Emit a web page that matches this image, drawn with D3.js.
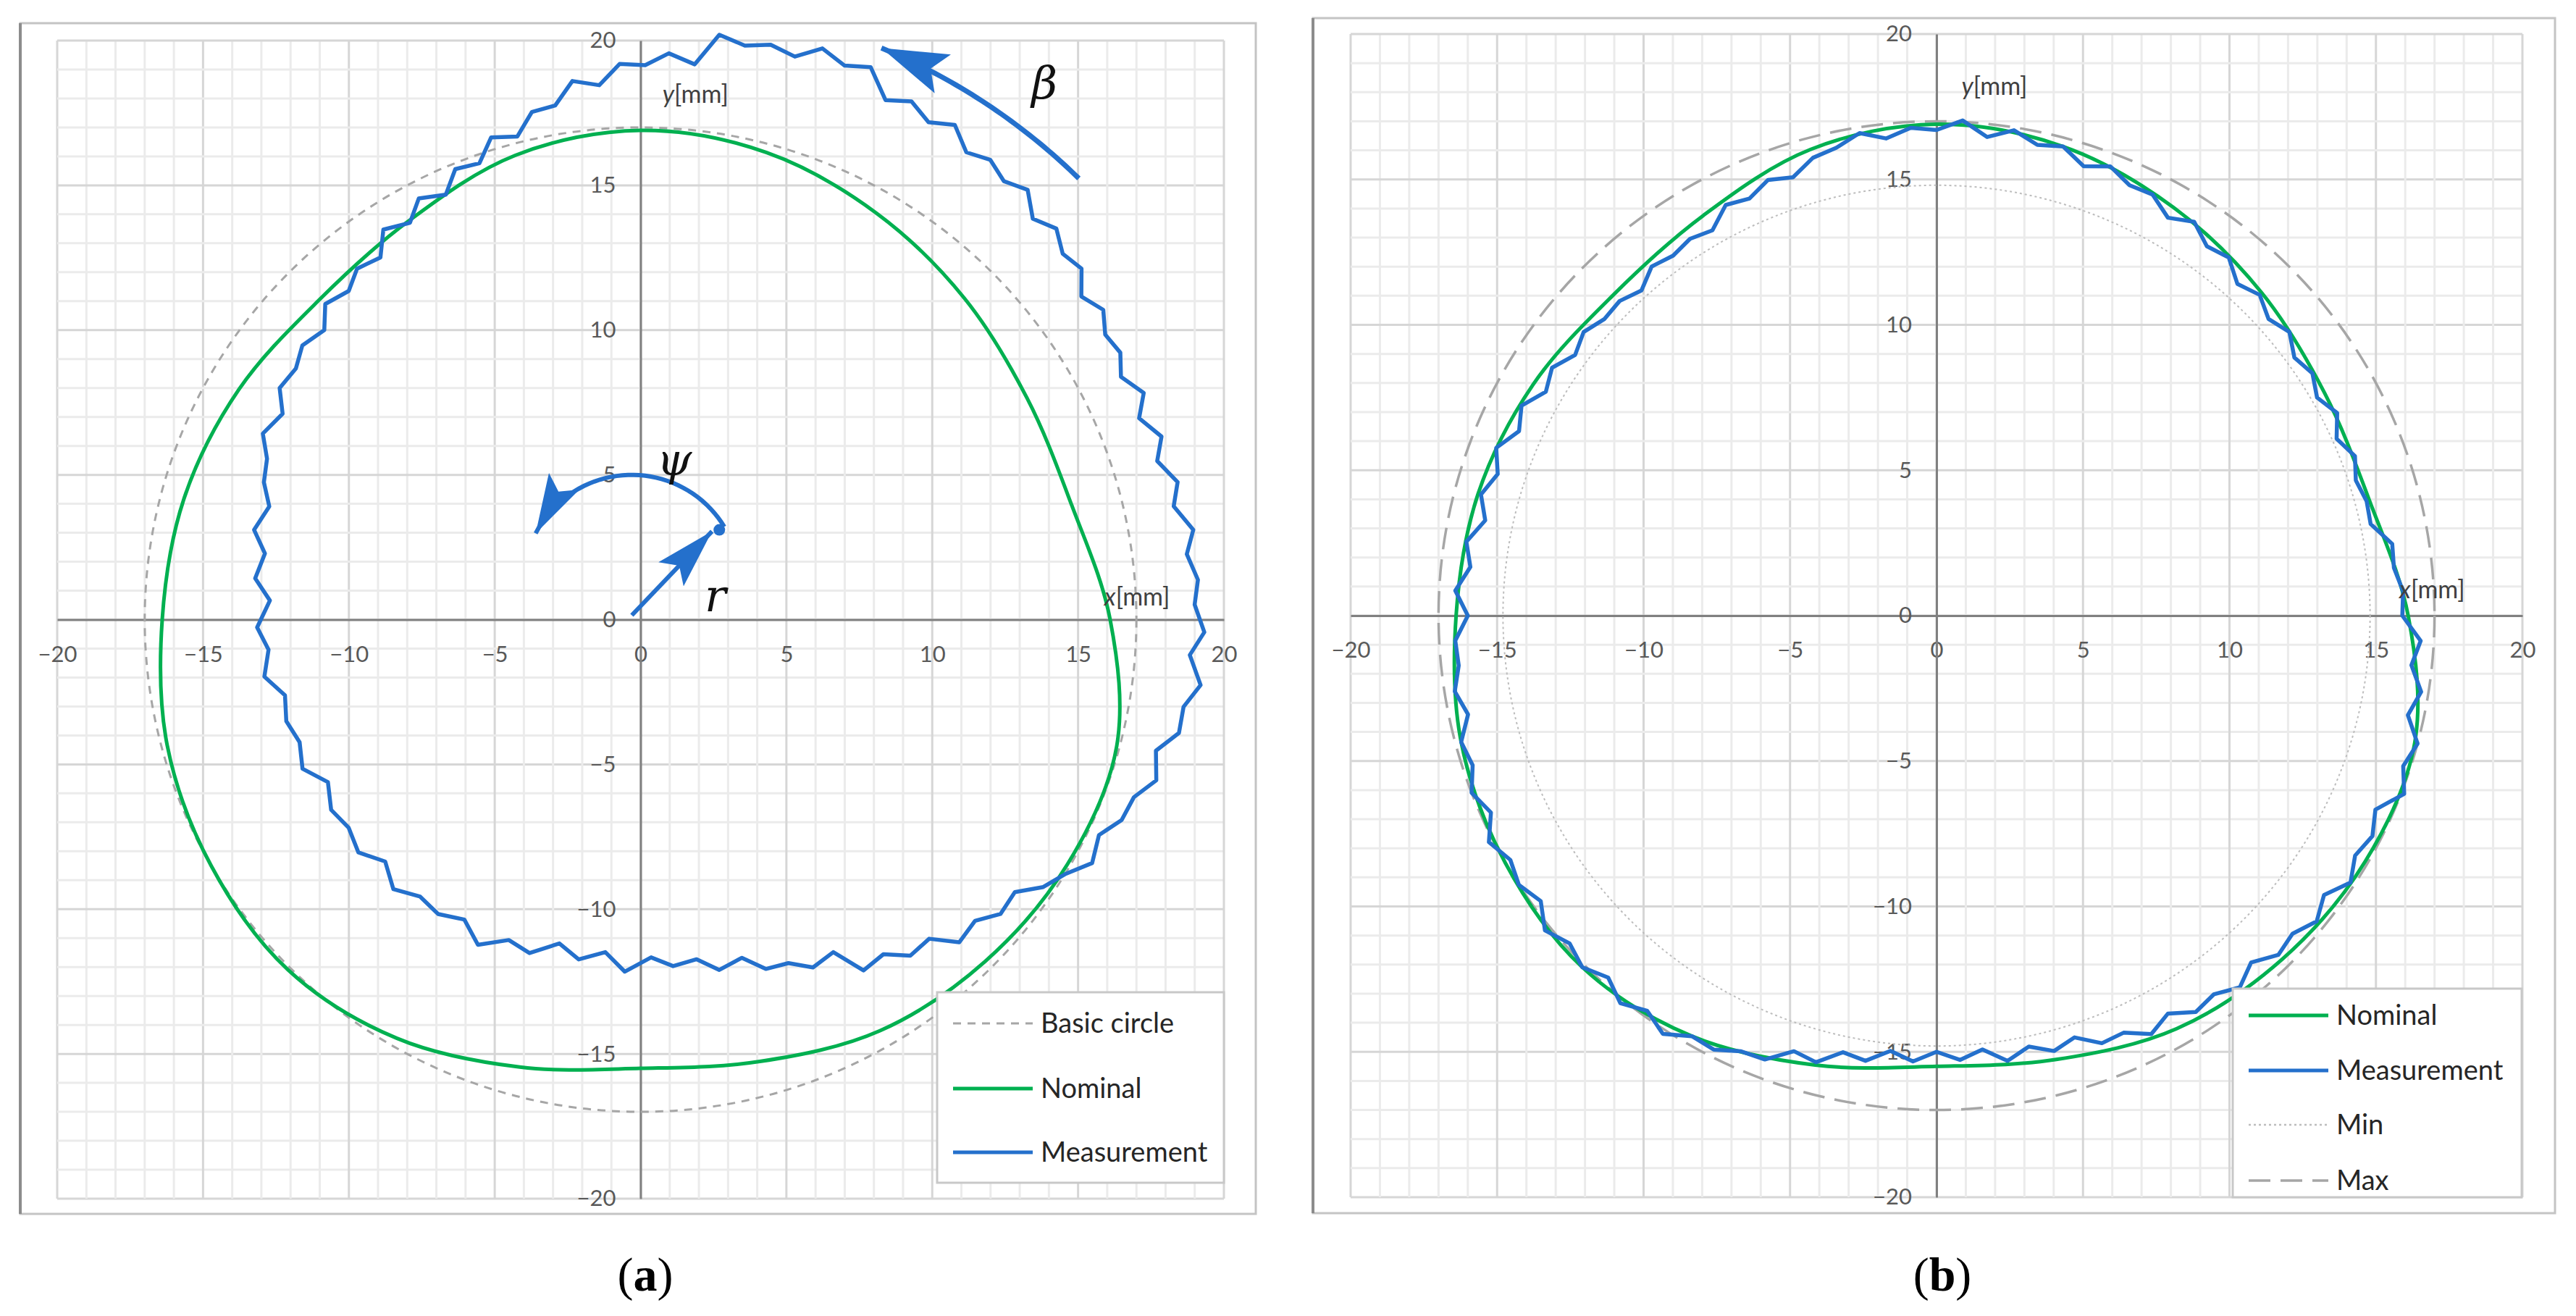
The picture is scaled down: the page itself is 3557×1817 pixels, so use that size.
<!DOCTYPE html>
<html>
<head>
<meta charset="utf-8">
<script src="https://cdn.jsdelivr.net/npm/d3@7"></script>
<style>
  body { margin: 0; background: #fff; }
  svg { display: block; }
</style>
</head>
<body>
<svg id="chart" width="3557" height="1817"></svg>
<script>
// Nominal cam profile, radius [mm] every 15 deg (counter-clockwise from +x)
var nominalAngles = d3.range(0, 360, 15);
var nominalRadius = [16.1, 15.3, 15.3, 15.7, 16.2, 16.7, 16.9, 16.6, 15.9, 15.6, 15.9, 16.2,
                     16.4, 16.8, 17.0, 17.1, 16.7, 16.0, 15.5, 15.8, 16.4, 16.7, 16.9, 16.9];

// Measured profiles, radius [mm] every 3 deg
var measAngles = d3.range(0, 360, 3);
// (a) measured around the offset centre
var measCenterA = [2.7, 3.1];
var measRadiusA = [16.25,15.6,15.8,15.2,15.5,14.9,15.3,14.75,15.05,14.85,15.2,14.8,15.35,15.15,15.55,15.2,15.8,15.5,15.8,15.55,
  16.15,15.8,16.2,15.9,16.8,16.6,17.0,16.55,16.85,16.75,17.1,16.1,16.55,16.25,16.45,15.9,16.3,15.7,15.8,15.25,
  15.65,15.1,15.4,14.9,15.4,15.0,15.5,14.95,15.35,15.15,15.6,15.2,15.65,15.55,15.85,15.5,16.0,15.7,15.7,15.45,
  15.95,15.6,16.0,15.6,16.2,16.0,16.4,15.95,16.25,16.15,16.5,16.0,16.45,16.35,16.65,16.2,16.7,16.3,16.4,16.05,
  16.55,15.9,16.0,15.3,15.6,15.1,15.6,14.95,15.15,14.85,15.2,14.8,15.25,15.15,15.45,15.1,16.0,15.7,16.1,15.85,
  16.45,16.1,16.4,16.1,16.6,16.8,17.2,16.75,17.05,16.95,17.3,16.8,17.25,17.05,17.35,16.7,17.0,16.5,16.5,16.05];
// (b) measured around the origin
var measRadiusB = [15.9,15.95,15.7,15.75,15.15,15.2,15.05,15.3,14.95,15.35,15.0,15.3,15.1,15.5,15.25,15.6,15.35,15.85,15.7,16.15,
  15.8,16.25,16.2,16.55,16.25,16.7,16.55,16.9,16.55,17.05,16.7,16.8,16.5,16.8,16.45,16.3,15.85,16.05,15.7,15.85,
  15.3,15.45,15.3,15.45,15.05,15.3,15.25,15.5,15.25,15.65,15.4,15.9,15.6,16.1,15.75,16.1,15.75,16.25,16.0,16.45,
  16.0,16.45,16.4,16.65,16.35,16.8,16.65,17.0,16.65,17.15,16.8,17.0,16.7,17.2,16.85,17.1,16.75,17.15,16.8,17.15,
  16.7,16.75,16.4,16.35,15.75,15.9,15.35,15.5,15.05,15.35,15.0,15.3,15.0,15.5,15.15,15.5,15.25,15.75,15.7,16.15,
  15.8,16.25,16.1,16.45,16.05,16.5,16.35,16.7,16.35,16.85,16.5,16.7,16.4,17.1,16.75,17.0,16.45,16.75,16.3,16.55];

var basicCircleR = 17.0;
var minCircleR = 14.8;
var maxCircleR = 17.0;

var ticks = [-20, -15, -10, -5, 0, 5, 10, 15, 20];
var minorTicks = d3.range(-20, 21, 1);

var svg = d3.select("#chart");
var GREEN = "#00b050", BLUE = "#2470cc", GREY = "#a6a6a6";

function toXY(angles, radius, c) {
  c = c || [0, 0];
  return angles.map(function (a, i) {
    var t = a * Math.PI / 180;
    return [c[0] + radius[i] * Math.cos(t), c[1] + radius[i] * Math.sin(t)];
  });
}

function panel(opt) {
  var g = svg.append("g");
  var x = d3.scaleLinear().domain([-20, 20]).range(opt.xr);
  var y = d3.scaleLinear().domain([-20, 20]).range(opt.yr);

  // outer frame
  g.append("rect").attr("x", opt.box[0]).attr("y", opt.box[1])
    .attr("width", opt.box[2] - opt.box[0]).attr("height", opt.box[3] - opt.box[1])
    .attr("fill", "#fff").attr("stroke", "#c4c4c4").attr("stroke-width", 3);
  g.append("line").attr("x1", opt.box[0]).attr("x2", opt.box[0])
    .attr("y1", opt.box[1]).attr("y2", opt.box[3]).attr("stroke", "#8c8c8c").attr("stroke-width", 4);

  // gridlines
  var grid = g.append("g");
  minorTicks.forEach(function (v) {
    var major = v % 5 === 0;
    grid.append("line").attr("x1", x(v)).attr("x2", x(v)).attr("y1", y(-20)).attr("y2", y(20))
      .attr("stroke", major ? "#d6d6d6" : "#ebebeb").attr("stroke-width", 3);
    grid.append("line").attr("y1", y(v)).attr("y2", y(v)).attr("x1", x(-20)).attr("x2", x(20))
      .attr("stroke", major ? "#d6d6d6" : "#ebebeb").attr("stroke-width", 3);
  });

  // axes through the origin
  var xa = g.append("g").attr("transform", "translate(0," + y(0) + ")")
    .call(d3.axisBottom(x).tickValues(ticks).tickSize(0).tickPadding(36).tickFormat(d3.format("d")));
  var ya = g.append("g").attr("transform", "translate(" + x(0) + ",0)")
    .call(d3.axisLeft(y).tickValues(ticks).tickSize(0).tickPadding(34).tickFormat(d3.format("d")));
  [xa, ya].forEach(function (a) {
    a.select(".domain").attr("stroke", "#808080").attr("stroke-width", 3);
    a.selectAll("text").attr("font-family", "Lato, 'Open Sans', sans-serif")
      .attr("font-size", 31).attr("fill", "#595959");
  });

  var line = d3.line().x(function (d) { return x(d[0]); }).y(function (d) { return y(d[1]); });

  var layer = g.append("g");
  opt.circles.forEach(function (c) {
    layer.append("ellipse").attr("cx", x(0)).attr("cy", y(0))
      .attr("rx", x(c.r) - x(0)).attr("ry", y(0) - y(c.r))
      .attr("fill", "none").attr("stroke", c.color).attr("stroke-width", c.w)
      .attr("stroke-dasharray", c.dash);
  });

  layer.append("path").datum(toXY(nominalAngles, nominalRadius))
    .attr("d", line.curve(d3.curveCatmullRomClosed))
    .attr("fill", "none").attr("stroke", GREEN).attr("stroke-width", 5);

  layer.append("path").datum(toXY(measAngles, opt.meas, opt.center))
    .attr("d", line.curve(d3.curveLinearClosed))
    .attr("fill", "none").attr("stroke", BLUE).attr("stroke-width", 5.5)
    .attr("stroke-linejoin", "round");

  // axis titles
  function axTitle(v, px, py) {
    var t = g.append("text").attr("x", x(px)).attr("y", y(py))
      .attr("font-family", "Lato, 'Open Sans', sans-serif").attr("font-size", 34).attr("fill", "#404040");
    t.append("tspan").attr("font-style", "italic").text(v);
    t.append("tspan").text("[mm]");
  }
  axTitle("y", opt.yTitle[0], opt.yTitle[1]);
  axTitle("x", opt.xTitle[0], opt.xTitle[1]);

  // legend
  var lg = g.append("g");
  lg.append("rect").attr("x", opt.legend[0]).attr("y", opt.legend[1])
    .attr("width", opt.legend[2] - opt.legend[0]).attr("height", opt.legend[3] - opt.legend[1])
    .attr("fill", "#fff").attr("stroke", "#c8c8c8").attr("stroke-width", 3);
  opt.items.forEach(function (it, i) {
    var yy = opt.itemY[i];
    lg.append("line").attr("x1", opt.legend[0] + 22).attr("x2", opt.legend[0] + 132)
      .attr("y1", yy).attr("y2", yy).attr("stroke", it.color).attr("stroke-width", it.w)
      .attr("stroke-dasharray", it.dash || null);
    lg.append("text").attr("x", opt.legend[0] + 143).attr("y", yy).attr("dy", "0.35em")
      .attr("font-family", "Lato, 'Open Sans', sans-serif").attr("font-size", 38).attr("fill", "#262626")
      .text(it.label);
  });

  // caption
  var cap = svg.append("text").attr("x", opt.caption).attr("y", 1782).attr("text-anchor", "middle")
    .attr("font-family", "'Liberation Serif', 'DejaVu Serif', serif").attr("font-size", 66).attr("fill", "#000");
  cap.append("tspan").text("(");
  cap.append("tspan").attr("font-weight", "bold").text(opt.letter);
  cap.append("tspan").text(")");

  return { g: g, x: x, y: y };
}

var A = panel({
  box: [28, 32, 1734, 1676], xr: [79, 1690], yr: [1655, 56],
  meas: measRadiusA, center: measCenterA,
  circles: [{ r: basicCircleR, color: GREY, w: 3, dash: "11,9" }],
  yTitle: [0.75, 17.85], xTitle: [15.9, 0.5],
  legend: [1294, 1370, 1690, 1633], itemY: [1413, 1503, 1591],
  items: [
    { label: "Basic circle", color: GREY, w: 3, dash: "11,9" },
    { label: "Nominal", color: GREEN, w: 5 },
    { label: "Measurement", color: BLUE, w: 5 }
  ],
  caption: 891, letter: "a"
});

var B = panel({
  box: [1813, 25, 3528, 1675], xr: [1865, 3483], yr: [1653, 47],
  meas: measRadiusB, center: [0, 0],
  circles: [
    { r: minCircleR, color: "#bdbdbd", w: 2, dash: "3,4" },
    { r: maxCircleR, color: GREY, w: 3.5, dash: "30,14" }
  ],
  yTitle: [0.85, 17.9], xTitle: [15.8, 0.6],
  legend: [3083, 1365, 3482, 1653], itemY: [1402, 1478, 1553, 1630],
  items: [
    { label: "Nominal", color: GREEN, w: 5 },
    { label: "Measurement", color: BLUE, w: 5 },
    { label: "Min", color: "#bdbdbd", w: 2.5, dash: "3,4" },
    { label: "Max", color: GREY, w: 3.5, dash: "30,14" }
  ],
  caption: 2682, letter: "b"
});

// annotations on panel (a): beta, psi and r
(function () {
  var g = A.g, x = A.x, y = A.y;
  var defs = svg.append("defs");
  function marker(id, len, wid) {
    defs.append("marker").attr("id", id).attr("markerUnits", "userSpaceOnUse")
      .attr("viewBox", [-len, -wid / 2, len, wid].join(" "))
      .attr("markerWidth", len).attr("markerHeight", wid).attr("refX", 0).attr("refY", 0)
      .attr("orient", "auto")
      .append("path").attr("d", "M0,0L" + (-len) + "," + (-wid / 2) + "L" + (-len * 0.8) + ",0L" + (-len) + "," + (wid / 2) + "Z")
      .attr("fill", BLUE);
  }
  marker("headBig", 92, 58);
  marker("headSmall", 82, 48);

  function arcPts(cx, cy, r, a0, a1) {
    return d3.range(0, 41).map(function (k) {
      var t = (a0 + (a1 - a0) * k / 40) * Math.PI / 180;
      return [x(cx + r * Math.cos(t)), y(cy + r * Math.sin(t))];
    });
  }
  var path = d3.line();
  g.append("path").attr("d", path(arcPts(0, 0, 21.4, 45.4, 67.3)))
    .attr("fill", "none").attr("stroke", BLUE).attr("stroke-width", 7).attr("marker-end", "url(#headBig)");
  g.append("path").attr("d", path(arcPts(-0.3, 1.3, 3.7, 31, 153)))
    .attr("fill", "none").attr("stroke", BLUE).attr("stroke-width", 6).attr("marker-end", "url(#headSmall)");
  g.append("path").attr("d", path([[x(-0.3), y(0.15)], [x(2.45), y(3.05)]]))
    .attr("fill", "none").attr("stroke", BLUE).attr("stroke-width", 6).attr("marker-end", "url(#headSmall)");
  g.append("circle").attr("cx", x(2.7)).attr("cy", y(3.1)).attr("r", 8).attr("fill", BLUE);

  [["β", 13.4, 18.0], ["ψ", 0.55, 5.0], ["r", 2.2, 0.3]].forEach(function (d) {
    g.append("text").attr("x", x(d[1])).attr("y", y(d[2]))
      .attr("font-family", "'DejaVu Serif', 'Liberation Serif', serif").attr("font-style", "italic")
      .attr("font-size", 62).attr("fill", "#111").text(d[0]);
  });
})();
</script>
</body>
</html>
